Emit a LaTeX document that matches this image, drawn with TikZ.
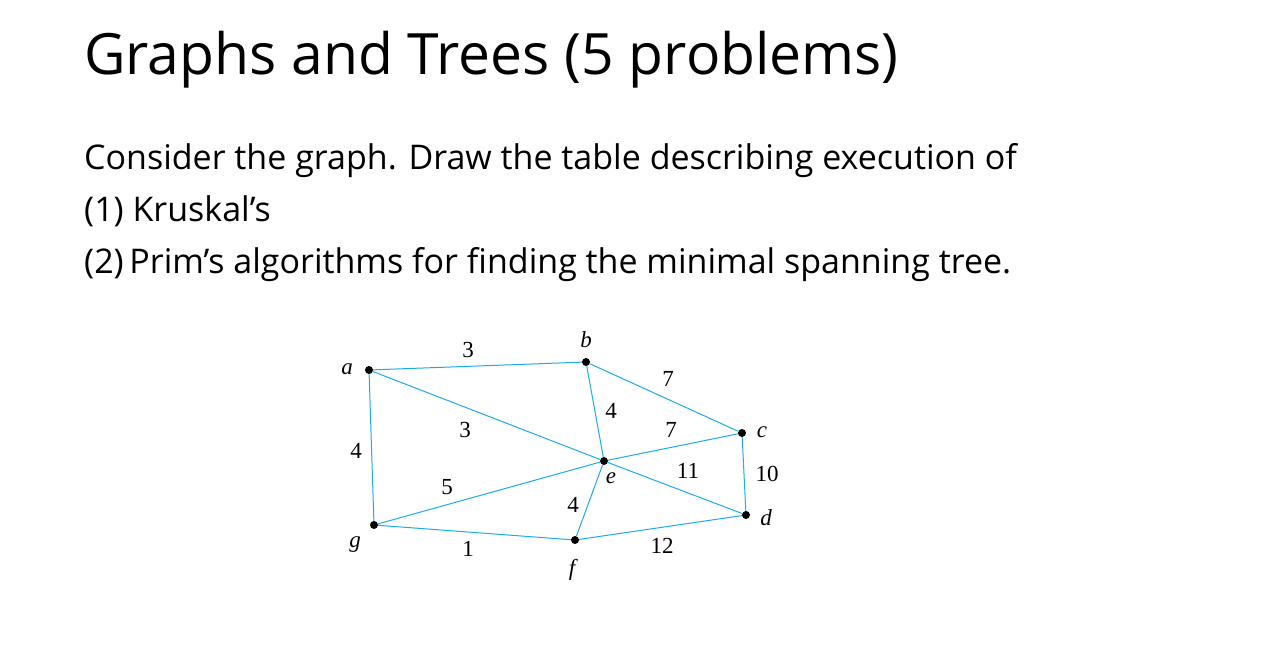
\documentclass[tikz,border=0pt]{standalone}
\usepackage{fontspec}
\newfontfamily\comic{Open Sans}
\newfontfamily\tms{Liberation Serif}
\begin{document}
\begin{tikzpicture}[x=1pt,y=-1pt,
  vtx/.style={circle,fill=black,inner sep=0pt,minimum size=8pt},
  edge/.style={draw={rgb,255:red,30;green,170;blue,230},line width=1pt},
  wl/.style={font=\tms\fontsize{23}{23}\selectfont,inner sep=0pt},
  vl/.style={font=\tms\itshape\fontsize{23}{23}\selectfont,inner sep=0pt}]
\useasboundingbox (0,0) rectangle (1277,652);
\node[anchor=base west,font=\comic\fontsize{57}{57}\selectfont,inner sep=0pt] (title) at (84,75) {Graphs and Trees (5 problems)};
\node[anchor=base west,font=\comic\fontsize{34}{34}\selectfont,inner sep=0pt] (l1) at (84,170) {Consider the graph. Draw the table describing execution of};
\node[anchor=base west,font=\comic\fontsize{34}{34}\selectfont,inner sep=0pt] (l2) at (84,222) {(1) Kruskal’s};
\node[anchor=base west,font=\comic\fontsize{34}{34}\selectfont,inner sep=0pt] (l3) at (84,274) {(2)\,Prim’s algorithms for finding the minimal spanning tree.};
\node[vtx] (a) at (369,370) {};
\node[vtx] (b) at (586,362) {};
\node[vtx] (c) at (742,433) {};
\node[vtx] (e) at (604,461) {};
\node[vtx] (g) at (374,525) {};
\node[vtx] (f) at (575,540) {};
\node[vtx] (d) at (746,515) {};
\draw[edge] (a)--(b) (b)--(c) (b)--(e) (a)--(e) (e)--(c) (a)--(g) (g)--(e) (e)--(d) (c)--(d) (e)--(f) (g)--(f) (f)--(d);
\node[wl] (w1) at (468,350) {3};
\node[wl] (w2) at (668,379) {7};
\node[wl] (w3) at (611,411) {4};
\node[wl] (w4) at (465,430) {3};
\node[wl] (w5) at (671,430) {7};
\node[wl] (w6) at (356,451) {4};
\node[wl] (w7) at (447,487) {5};
\node[wl] (w8) at (688,471) {11};
\node[wl] (w9) at (767,474) {10};
\node[wl] (w10) at (573,505) {4};
\node[wl] (w11) at (468,549) {1};
\node[wl] (w12) at (662,546) {12};
\node[vl] (la) at (347,369) {a};
\node[vl] (lb) at (586,340) {b};
\node[vl] (lc) at (762,432) {c};
\node[vl] (le) at (611,478) {e};
\node[vl] (lg) at (355,545) {g};
\node[vl] (lf) at (572,570) {f};
\node[vl] (ld) at (766,518) {d};
\end{tikzpicture}
\end{document}
